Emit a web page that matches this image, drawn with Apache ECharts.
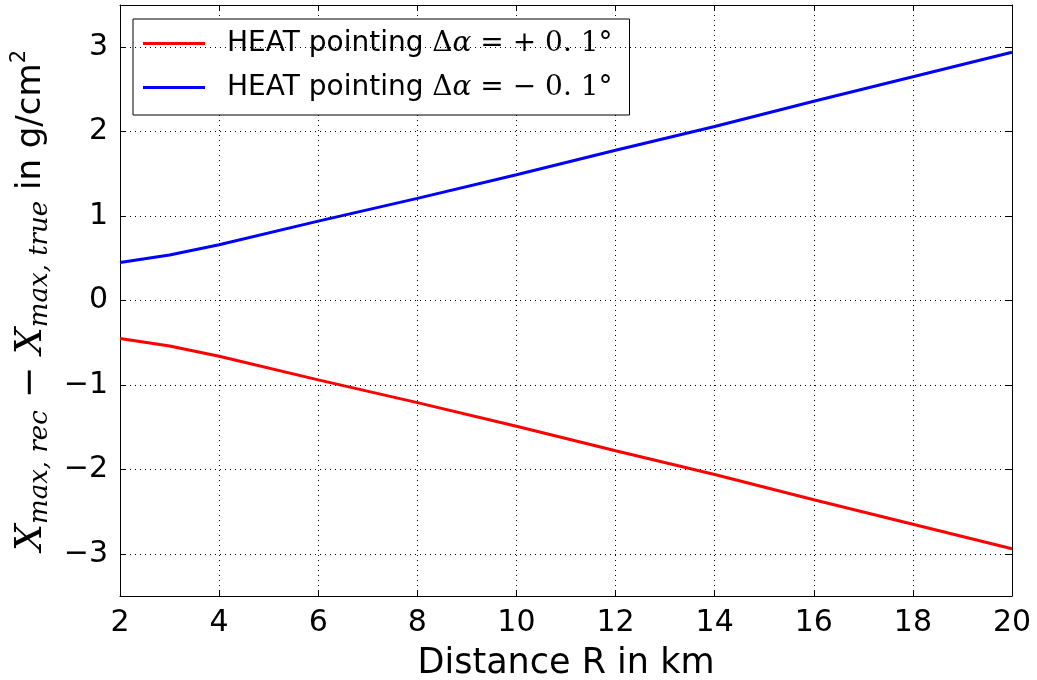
<!DOCTYPE html>
<html><head><meta charset="utf-8">
<script src="https://cdn.jsdelivr.net/npm/echarts@6/dist/echarts.min.js"></script>
<style>html,body{margin:0;padding:0;background:#fff}#c{width:1037px;height:680px}</style>
</head><body><div id="c"></div>
<script>
const distances = [2, 3, 4, 6, 8, 10, 12, 14, 16, 18, 20];
const plusValues = [-0.45, -0.54, -0.66, -0.94, -1.21, -1.49, -1.78, -2.06, -2.36, -2.65, -2.94];
const minusValues = [0.45, 0.54, 0.66, 0.94, 1.21, 1.49, 1.78, 2.06, 2.36, 2.65, 2.94];
const xTicks = [2, 4, 6, 8, 10, 12, 14, 16, 18, 20];
const yTicks = [-3, -2, -1, 0, 1, 2, 3];
const seriesNames = ['plus', 'minus'];

const chart = echarts.init(document.getElementById('c'), null, {renderer: 'canvas'});
const font = 'DejaVu Sans';
const tickFont = 30;
const mathRich = {
  t: {fontFamily: font, fontSize: 28, color: '#000', lineHeight: 31, padding: [0, 0, 0, 17]},
  m: {fontFamily: 'DejaVu Serif', fontSize: 28, color: '#000', lineHeight: 31},
  mi: {fontFamily: 'DejaVu Serif', fontStyle: 'italic', fontSize: 28, color: '#000', lineHeight: 31}
};
const legendLabels = {
  plus: '{t|HEAT pointing }{m|Δ}{mi|α}{m| = + 0. 1°}',
  minus: '{t|HEAT pointing }{m|Δ}{mi|α}{m| = − 0. 1°}'
};
const mk = (vals) => distances.map((d, i) => [d, vals[i]]);
const axisCommon = {
  axisLine: {show: true, onZero: false, lineStyle: {color: '#000', width: 1}},
  splitLine: {show: false}
};
const tickStyle = {show: true, inside: true, length: 6, lineStyle: {color: '#000'}};
chart.setOption({
  animation: false,
  backgroundColor: '#fff',
  grid: {left: 120, right: 25, top: 5, bottom: 84, containLabel: false, outerBoundsMode: 'none'},
  legend: {
    left: 133, top: 19, orient: 'vertical',
    data: seriesNames,
    formatter: (n) => legendLabels[n],
    textStyle: {rich: mathRich},
    icon: 'rect', itemWidth: 62, itemHeight: 3, itemGap: 16,
    borderColor: '#000', borderWidth: 1, backgroundColor: '#fff',
    padding: [10.5, 17, 13.5, 10]
  },
  xAxis: [{
    type: 'value', min: 2, max: 20, interval: 2,
    ...axisCommon,
    axisTick: tickStyle,
    splitLine: {show: true, lineStyle: {color: '#000', type: [1, 4], width: 1}},
    axisLabel: {fontFamily: font, fontSize: tickFont, color: '#000', margin: 12,
      formatter: (v) => xTicks.includes(v) ? String(v) : ''},
    name: 'Distance R in km', nameLocation: 'middle', nameGap: 50,
    nameTextStyle: {fontFamily: font, fontSize: 35, color: '#000'}
  }, {
    type: 'value', min: 2, max: 20, interval: 2, position: 'top',
    ...axisCommon, axisTick: tickStyle, axisLabel: {show: false}
  }],
  yAxis: [{
    type: 'value', min: -3.5, max: 3.5, interval: 0.5,
    ...axisCommon,
    axisTick: {...tickStyle, customValues: yTicks},
    axisLabel: {fontFamily: font, fontSize: tickFont, color: '#000', margin: 12,
      customValues: yTicks,
      formatter: (v) => (v < 0 ? '−' + Math.abs(v) : String(v))},
    name: '{x|X}{s|max, rec}{m| − }{x|X}{s|max, true}{t| in g/cm}{p|2}',
    nameLocation: 'middle', nameRotate: 90, nameGap: 64,
    nameTextStyle: {
      rich: {
        x: {fontFamily: 'DejaVu Serif', fontStyle: 'italic', fontSize: 38, color: '#000', lineHeight: 44, verticalAlign: 'middle'},
        s: {fontFamily: 'DejaVu Serif', fontStyle: 'italic', fontSize: 26, color: '#000', lineHeight: 44, verticalAlign: 'bottom', padding: [15, 0, 0, 0]},
        m: {fontFamily: 'DejaVu Serif', fontSize: 38, color: '#000', lineHeight: 44},
        t: {fontFamily: font, fontSize: 34, color: '#000', lineHeight: 44},
        p: {fontFamily: font, fontSize: 21, color: '#000', lineHeight: 44, verticalAlign: 'top', padding: [0, 0, 15, 0]}
      }
    }
  }, {
    type: 'value', min: -3.5, max: 3.5, interval: 0.5, position: 'right',
    ...axisCommon, axisTick: {...tickStyle, customValues: yTicks}, axisLabel: {show: false}
  }],
  series: [
    {type: 'line', name: 'plus', data: mk(plusValues), showSymbol: false, symbol: 'none',
     lineStyle: {color: '#ff0000', width: 3}, itemStyle: {color: '#ff0000'}},
    {type: 'line', name: 'minus', data: mk(minusValues), showSymbol: false, symbol: 'none',
     lineStyle: {color: '#0000ff', width: 3}, itemStyle: {color: '#0000ff'}},
    {type: 'line', name: 'yticks', data: [], xAxisIndex: 0, yAxisIndex: 0,
     markLine: {silent: true, symbol: 'none', label: {show: false},
       lineStyle: {color: '#000', type: [1, 4], width: 1},
       data: yTicks.map(v => ({yAxis: v}))}}
  ]
});
</script></body></html>
